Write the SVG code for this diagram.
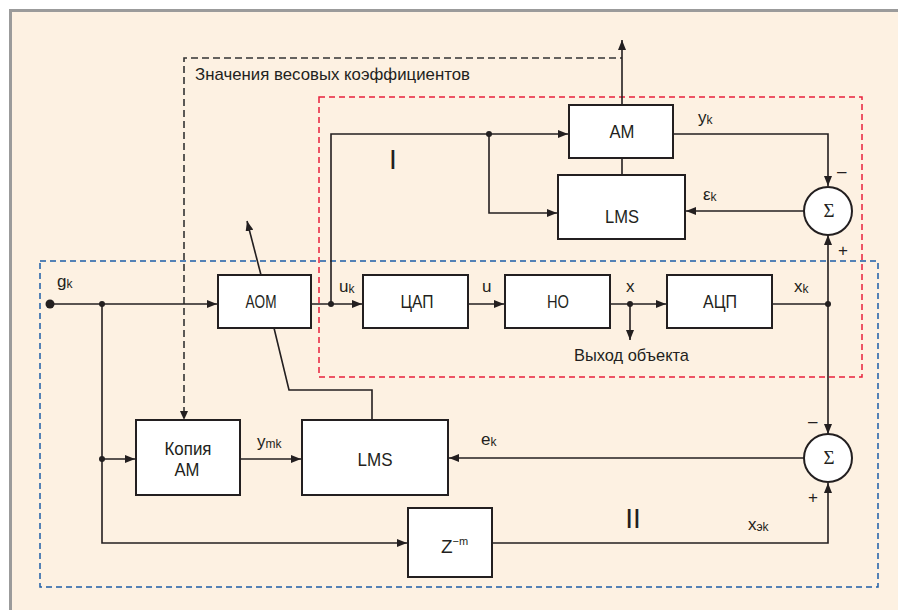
<svg xmlns="http://www.w3.org/2000/svg" width="898" height="610" viewBox="0 0 898 610">
<defs>
<marker id="arr" markerUnits="userSpaceOnUse" markerWidth="10" markerHeight="8" refX="10" refY="4" orient="auto">
<path d="M0,0 L10,4 L0,8 z" fill="#231f20"/>
</marker>
<style>
.bg{fill:#fdf1e2;stroke:#9b9b9b;stroke-width:3}
.box{fill:#ffffff;stroke:#231f20;stroke-width:2}
.ln{fill:none;stroke:#231f20;stroke-width:1.6}
.dash{fill:none;stroke:#333;stroke-width:1.6;stroke-dasharray:7,4}
.red{fill:none;stroke:#e8213c;stroke-width:1.5;stroke-dasharray:6,4}
.blue{fill:none;stroke:#1d5ea8;stroke-width:1.5;stroke-dasharray:6,4}
.dot{fill:#231f20}
text{font-family:"Liberation Sans",Arial,sans-serif;fill:#231f20}
.bt{font-size:19px;text-anchor:middle}
.lb{font-size:17px}
.sub{font-size:12px}
.sig{font-family:"Liberation Serif","Times New Roman",serif;font-size:19px;text-anchor:middle}
.big{font-size:28px;text-anchor:middle}
</style>
</defs>
<rect class="bg" x="10.5" y="10.5" width="900" height="610"/>
<rect class="red" x="319" y="97" width="543" height="280"/>
<rect class="blue" x="40" y="261" width="838" height="326"/>
<g id="connectors">
<path class="dash" d="M184,414 V58 H622"/>
<path d="M184,420 L180,411 L188,411 z" class="dot"/>
<path class="ln" d="M50,304 H217" marker-end="url(#arr)"/>
<path class="ln" d="M102,304 V543 H407" marker-end="url(#arr)"/>
<path class="ln" d="M102,459 H135" marker-end="url(#arr)"/>
<path class="ln" d="M311,304 H362" marker-end="url(#arr)"/>
<path class="ln" d="M331,304 V134 H568" marker-end="url(#arr)"/>
<path class="ln" d="M489,134 V213 H557" marker-end="url(#arr)"/>
<path class="ln" d="M622,105 V40" marker-end="url(#arr)"/>
<path class="ln" d="M622,158 V175"/>
<path class="ln" d="M673,134 H828 V186" marker-end="url(#arr)"/>
<path class="ln" d="M804,211 H686" marker-end="url(#arr)"/>
<path class="ln" d="M468,304 H504" marker-end="url(#arr)"/>
<path class="ln" d="M610,304 H666" marker-end="url(#arr)"/>
<path class="ln" d="M630,304 V340" marker-end="url(#arr)"/>
<path class="ln" d="M772,304 H828"/>
<path class="ln" d="M828,304 V235" marker-end="url(#arr)"/>
<path class="ln" d="M828,304 V434" marker-end="url(#arr)"/>
<path class="ln" d="M804,458 H449" marker-end="url(#arr)"/>
<path class="ln" d="M492,543 H828 V483" marker-end="url(#arr)"/>
<path class="ln" d="M240,459 H301" marker-end="url(#arr)"/>
<path class="ln" d="M372,420 V390 H289 L274,328"/>
<path class="ln" d="M261,275 L247,221" marker-end="url(#arr)"/>
<circle class="dot" cx="50" cy="304" r="4.5"/>
<circle class="dot" cx="102" cy="304" r="3"/>
<circle class="dot" cx="102" cy="459" r="3"/>
<circle class="dot" cx="331" cy="304" r="3"/>
<circle class="dot" cx="489" cy="134" r="3"/>
<circle class="dot" cx="630" cy="304" r="3"/>
<circle class="dot" cx="828" cy="304" r="3"/>
</g>
<g id="am"><rect class="box" x="569" y="105" width="104" height="53"/><text class="bt" x="622" y="138" textLength="25" lengthAdjust="spacingAndGlyphs">AM</text></g>
<g id="lms1"><rect class="box" x="558" y="175" width="127" height="64"/><text class="bt" x="622" y="223" textLength="34" lengthAdjust="spacingAndGlyphs">LMS</text></g>
<g id="aom"><rect class="box" x="218" y="275" width="93" height="53"/><text class="bt" x="261" y="308" textLength="31" lengthAdjust="spacingAndGlyphs">AOM</text></g>
<g id="dac"><rect class="box" x="363" y="275" width="105" height="53"/><text class="bt" x="417" y="308" textLength="33" lengthAdjust="spacingAndGlyphs">ЦАП</text></g>
<g id="ho"><rect class="box" x="505" y="275" width="105" height="53"/><text class="bt" x="558" y="308" textLength="22" lengthAdjust="spacingAndGlyphs">НО</text></g>
<g id="adc"><rect class="box" x="667" y="275" width="105" height="53"/><text class="bt" x="720" y="308" textLength="34" lengthAdjust="spacingAndGlyphs">АЦП</text></g>
<g id="copy"><rect class="box" x="136" y="420" width="104" height="75"/><text class="bt" x="188" y="455" textLength="47" lengthAdjust="spacingAndGlyphs">Копия</text><text class="bt" x="187" y="476" textLength="25" lengthAdjust="spacingAndGlyphs">AM</text></g>
<g id="lms2"><rect class="box" x="302" y="420" width="146" height="75"/><text class="bt" x="375" y="466" textLength="35" lengthAdjust="spacingAndGlyphs">LMS</text></g>
<g id="delay"><rect class="box" x="408" y="508" width="84" height="69"/><text x="441" y="553" font-size="19">Z<tspan font-size="11" dy="-8">−m</tspan></text></g>
<g id="sum1"><circle class="box" cx="828" cy="211" r="24"/><text class="sig" x="829" y="217">Σ</text></g>
<g id="sum2"><circle class="box" cx="828" cy="458" r="24"/><text class="sig" x="829" y="464">Σ</text></g>
<g id="labels">
<text class="lb" x="195" y="80" textLength="275" lengthAdjust="spacingAndGlyphs">Значения весовых коэффициентов</text>
<text class="lb" x="574" y="361" textLength="115" lengthAdjust="spacingAndGlyphs">Выход объекта</text>
<text class="lb" x="57" y="287">g<tspan class="sub" dy="1">k</tspan></text>
<text class="lb" x="339" y="292">u<tspan class="sub" dy="1">k</tspan></text>
<text class="lb" x="482" y="292">u</text>
<text class="lb" x="626" y="292">x</text>
<text class="lb" x="794" y="292">x<tspan class="sub" dy="1">k</tspan></text>
<text class="lb" x="698" y="123">y<tspan class="sub" dy="1">k</tspan></text>
<text class="lb" x="703" y="200">ε<tspan class="sub" dy="1">k</tspan></text>
<text class="lb" x="481" y="445">e<tspan class="sub" dy="1">k</tspan></text>
<text class="lb" x="257" y="447">y<tspan class="sub" dy="1">mk</tspan></text>
<text class="lb" x="748" y="530">x<tspan class="sub" dy="1">эk</tspan></text>
<text class="lb" x="837" y="177">–</text>
<text class="lb" x="838" y="256">+</text>
<text class="lb" x="808" y="427">–</text>
<text class="lb" x="808" y="503">+</text>
<text class="big" x="393" y="169" font-weight="300">I</text>
<text class="big" x="633" y="528" font-weight="300">II</text>
</g>
</svg>
